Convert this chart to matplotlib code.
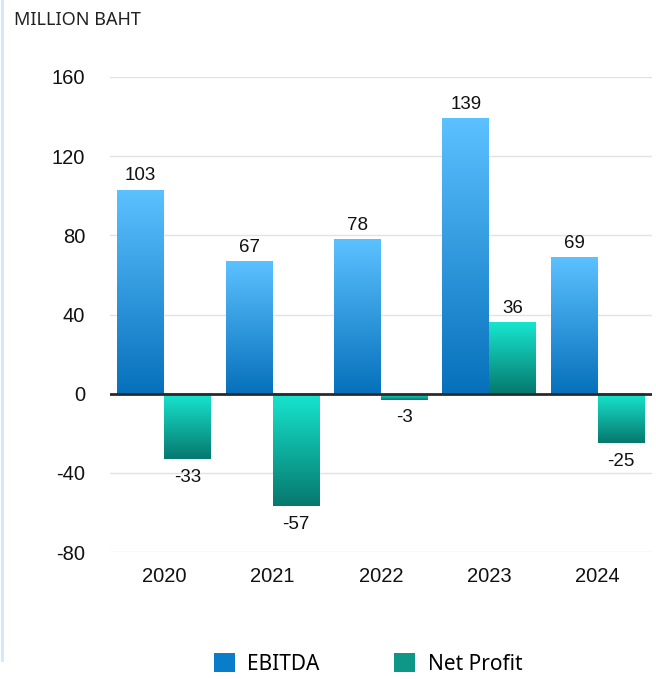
import matplotlib
matplotlib.use("Agg")
import matplotlib.pyplot as plt
import numpy as np
from matplotlib.colors import LinearSegmentedColormap
from matplotlib.patches import Patch
from matplotlib.lines import Line2D

years = ["2020", "2021", "2022", "2023", "2024"]
ebitda = [103, 67, 78, 139, 69]
net_profit = [-33, -57, -3, 36, -25]
yticks = [-80, -40, 0, 40, 80, 120, 160]
series_names = ["EBITDA", "Net Profit"]

plt.rcParams['font.family'] = ['Liberation Sans', 'DejaVu Sans']

fig = plt.figure(figsize=(6.56, 6.79), dpi=100)
ax = fig.add_axes([110/656, 1-552/679, 542/656, (552-77)/679])

blue_cmap = LinearSegmentedColormap.from_list("b", ["#0670bb", "#5cc1ff"])
teal_cmap = LinearSegmentedColormap.from_list("t", ["#06786e", "#17e6cf"])

x = np.arange(len(years))
w = 0.433
b1 = ax.bar(x - w/2, ebitda, w, color="none", zorder=2)
b2 = ax.bar(x + w/2, net_profit, w, color="none", zorder=2)

grad = np.linspace(0, 1, 256).reshape(-1, 1)
for bars, cmap in ((b1, blue_cmap), (b2, teal_cmap)):
    for r in bars:
        x0, y0 = r.get_x(), r.get_y()
        x1, y1 = x0 + r.get_width(), y0 + r.get_height()
        lo, hi = min(y0, y1), max(y0, y1)
        ax.imshow(grad, cmap=cmap, extent=[x0, x1, lo, hi], origin='lower',
                  aspect='auto', zorder=2, interpolation='bilinear')

def label(r, v):
    xc = r.get_x() + r.get_width()/2
    if v >= 0:
        ax.annotate(str(v), (xc, v), xytext=(0, 4), textcoords='offset points',
                    ha='center', va='bottom', fontsize=13.5, color='#111111')
    else:
        ax.annotate(str(v), (xc, v), xytext=(0, -7), textcoords='offset points',
                    ha='center', va='top', fontsize=13.5, color='#111111')

for r, v in zip(b1, ebitda):
    label(r, v)
for r, v in zip(b2, net_profit):
    label(r, v)

ax.set_xlim(-0.5, len(years) - 0.5)
ax.set_ylim(-80, 160)
ax.set_yticks(yticks)
ax.set_yticklabels([str(t) for t in yticks])
ax.set_xticks(x)
ax.set_xticklabels(years)
ax.tick_params(axis='both', length=0, labelsize=14.5, colors='#111111')
ax.tick_params(axis='y', pad=18)
ax.tick_params(axis='x', pad=11)
for s in ax.spines.values():
    s.set_visible(False)
for t in yticks:
    if t != 0:
        ax.axhline(t, color='#e2e2e2', lw=1, zorder=0)
ax.axhline(0, color='#2a2a2a', lw=2, zorder=3)

fig.text(14/656, 1-20/679, "MILLION BAHT", fontsize=13, color='#222222', va='center', ha='left',
         family=['Noto Sans', 'DejaVu Sans'])

handles = [Patch(facecolor='#0a7dca', edgecolor='none'), Patch(facecolor='#0e9686', edgecolor='none')]
fig.legend(handles, series_names, loc='center', bbox_to_anchor=(368/656, 1-664/679), ncol=2,
           frameon=False, handlelength=1.0, handleheight=1.0,
           columnspacing=3.6, handletextpad=0.6, prop={'family': ['Noto Sans', 'DejaVu Sans'], 'size': 15})

fig.add_artist(Line2D([1.5/656, 1.5/656], [1-660/679, 1.0], color='#cde9fb', lw=2, transform=fig.transFigure))

fig.savefig("out.png", dpi=100)
